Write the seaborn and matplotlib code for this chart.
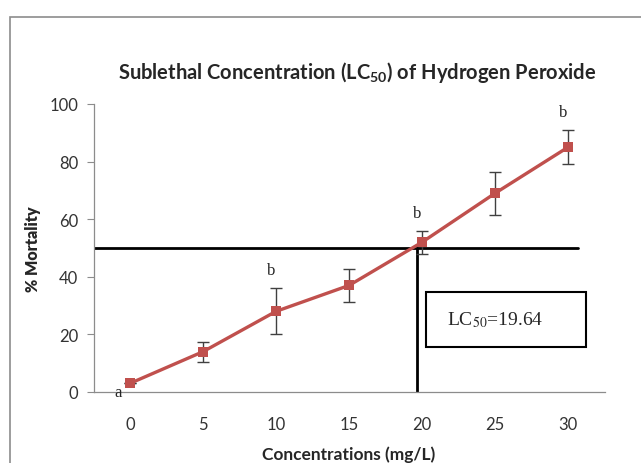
import matplotlib
matplotlib.use("Agg")
import matplotlib.pyplot as plt
import seaborn as sns
import pandas as pd
from matplotlib.patches import Rectangle

# Data
conc = [0, 5, 10, 15, 20, 25, 30]
mortality = [3, 14, 28, 37, 52, 69, 85]
err = [0, 3.5, 8, 5.7, 4, 7.5, 6]
letters = {0: "a", 10: "b", 20: "b", 30: "b"}
lc50 = 19.64

df = pd.DataFrame({"conc": conc, "mortality": mortality})

sns.set_style("white")
plt.rcParams["font.family"] = ["Lato", "DejaVu Sans"]
plt.rcParams["mathtext.fontset"] = "custom"
plt.rcParams["mathtext.rm"] = "Lato"
plt.rcParams["mathtext.bf"] = "Lato:bold"

fig = plt.figure(figsize=(6.41, 4.64), dpi=100)
ax = fig.add_axes([93.5 / 641, 1 - 393 / 464, 511 / 641, 288 / 464])

# outer chart frame
fig.patches.append(Rectangle((10 / 641, -0.1), 1.1, 1 - 18 / 464 + 0.1,
                             transform=fig.transFigure, fill=False,
                             edgecolor="#8c8c8c", linewidth=1.2))

# LC50 guide lines
ax.plot([-2.5, 30.7], [50, 50], color="black", linewidth=2, zorder=2)
ax.plot([lc50, lc50], [0, 50], color="black", linewidth=2, zorder=2)

ax.errorbar(conc, mortality, yerr=err, fmt="none", ecolor="#404040",
            elinewidth=1, capsize=4, capthick=1, zorder=3)
sns.lineplot(data=df, x="conc", y="mortality", ax=ax, color="#C0504D",
             linewidth=2.4, marker="s", markersize=7.5, markeredgewidth=0,
             zorder=4)

for x, t in letters.items():
    i = conc.index(x)
    if x == 0:
        ax.text(x - 0.8, 0, t, ha="center", va="center", fontsize=12,
                family="Liberation Serif", clip_on=False)
    else:
        ax.text(x - 0.3, mortality[i] + err[i] + 3.5, t, ha="center",
                va="bottom", fontsize=12, family="Liberation Serif")

# LC50 label box
ax.add_patch(Rectangle((20.27, 15.6), 10.96, 19.1, fill=False,
                       edgecolor="black", linewidth=1.5, zorder=5))
ax.text(21.7, 25.3, "LC$_{50}$=19.64", ha="left", va="center", fontsize=14,
        family="Liberation Serif", math_fontfamily="stix")

ax.set_xlim(-2.5, 32.5)
ax.set_ylim(0, 100)
ax.set_xticks(conc)
ax.set_yticks([0, 20, 40, 60, 80, 100])
ax.tick_params(axis="x", length=0, pad=17, labelsize=12, colors="#333333")
ax.tick_params(axis="y", length=5, width=0.8, color="#8c8c8c", direction="out",
               left=True, pad=6, labelsize=12, labelcolor="#333333")
for s in ["top", "right"]:
    ax.spines[s].set_visible(False)
for s in ["left", "bottom"]:
    ax.spines[s].set_color("#8c8c8c")
    ax.spines[s].set_linewidth(0.9)

ax.set_xlabel("Concentrations (mg/L)", fontsize=12.5, fontweight="bold",
              labelpad=10)
ax.set_ylabel("% Mortality", fontsize=11.5, fontweight="heavy", labelpad=6)
ax.set_title("Sublethal Concentration (LC$_{\\mathbf{50}}$) of Hydrogen Peroxide",
             fontsize=14.5, fontweight="bold", pad=19, x=0.515)

fig.savefig("out.png", dpi=100)
